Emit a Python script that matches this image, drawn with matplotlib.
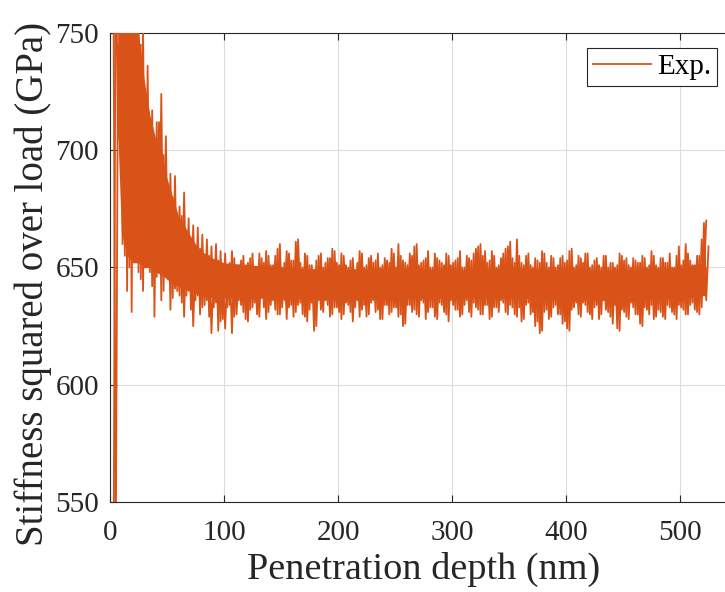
import numpy as np
import matplotlib
matplotlib.use("Agg")
import matplotlib.pyplot as plt

# Penetration depth sampling (nm) of the two interleaved acquisition traces: 3, 5, ... nm
depth_start = 3
depth_step = 2

# Stiffness squared over load (GPa), trace A
stiffness_a = [
    490, 800, 705, 785, 660, 790, 640, 770, 631, 780,
    655, 760, 645, 752, 650, 736, 648, 717, 629, 712,
    650, 724, 640, 706, 645, 690, 637, 689, 640, 676,
    635, 682, 638, 671, 632, 668, 636, 667, 630, 664,
    634, 662, 629, 659, 633, 660, 623, 657, 628, 656,
    633, 652, 622, 654, 630, 651, 634, 655, 628, 652,
    632, 656, 635, 650, 629, 654, 633, 657, 631, 651,
    636, 655, 630, 660, 633, 652, 628, 656, 634, 653,
    631, 662, 635, 650, 629, 655, 632, 651, 623, 653,
    636, 656, 631, 652, 634, 654, 630, 657, 633, 651,
    628, 655, 635, 650, 631, 654, 633, 652, 629, 656,
    634, 651, 630, 655, 636, 653, 632, 650, 628, 654,
    634, 652, 631, 656, 633, 660, 630, 653, 626, 651,
    634, 655, 632, 660, 629, 652, 635, 654, 631, 650,
    633, 656, 628, 653, 634, 651, 630, 655, 636, 652,
    632, 654, 629, 650, 634, 655, 631, 653, 635, 658,
    632, 660, 630, 657, 634, 653, 629, 655, 633, 651,
    636, 656, 631, 659, 634, 654, 630, 662, 633, 652,
    628, 655, 635, 651, 631, 654, 627, 652, 623, 656,
    632, 650, 629, 654, 634, 651, 630, 655, 627, 653,
    623, 658, 633, 651, 630, 654, 635, 656, 631, 650,
    628, 653, 634, 651, 630, 655, 632, 650, 629, 652,
    634, 651, 623, 655, 631, 654, 628, 650, 633, 653,
    630, 652, 625, 654, 632, 651, 634, 655, 629, 650,
    631, 654, 628, 652, 633, 650, 630, 655, 634, 651,
    632, 660, 630, 653, 635, 651, 631, 655, 633, 669,
    636, 659,
]

# Trace B (same depths)
stiffness_b = [
    780, 520, 745, 700, 760, 655, 775, 650, 740, 660,
    770, 648, 745, 640, 725, 652, 705, 642, 700, 646,
    712, 636, 698, 648, 684, 632, 680, 641, 670, 638,
    672, 629, 662, 640, 660, 625, 655, 638, 658, 633,
    652, 636, 655, 622, 650, 635, 653, 627, 648, 624,
    650, 634, 657, 629, 649, 636, 653, 631, 651, 627,
    654, 633, 650, 630, 656, 637, 652, 628, 655, 634,
    651, 632, 658, 630, 650, 636, 657, 633, 653, 629,
    661, 634, 652, 630, 656, 627, 651, 635, 649, 625,
    655, 632, 650, 636, 654, 629, 658, 633, 652, 631,
    656, 630, 651, 634, 653, 627, 649, 636, 657, 632,
    650, 629, 654, 635, 652, 631, 656, 628, 651, 634,
    653, 630, 658, 633, 650, 629, 655, 625, 652, 634,
    656, 631, 659, 630, 651, 636, 653, 628, 657, 633,
    650, 629, 654, 635, 652, 631, 656, 627, 651, 634,
    653, 632, 657, 630, 650, 636, 654, 629, 656, 633,
    659, 630, 655, 634, 652, 628, 657, 633, 650, 631,
    654, 635, 658, 630, 661, 633, 652, 629, 655, 627,
    651, 634, 656, 630, 650, 625, 653, 622, 657, 631,
    652, 628, 655, 633, 650, 630, 654, 626, 652, 624,
    657, 632, 650, 635, 655, 629, 652, 634, 656, 630,
    651, 633, 654, 628, 650, 636, 655, 631, 652, 626,
    650, 624, 656, 632, 653, 629, 651, 635, 654, 630,
    652, 626, 655, 633, 650, 630, 657, 628, 651, 632,
    654, 629, 652, 634, 656, 631, 650, 628, 659, 633,
    653, 630, 656, 634, 651, 632, 655, 630, 662, 645,
    670,
]
depth_a = depth_start + depth_step * np.arange(len(stiffness_a))
depth_b = depth_start + depth_step * np.arange(len(stiffness_b))

# Dense core of the noisy signal (solid region)
core_depth = [7, 10, 15, 20, 25, 30, 35, 40, 45, 50, 55, 60, 65, 70, 75, 80, 90, 100,
              150, 200, 250, 300, 350, 400, 450, 500, 520, 523]
core_low = [705, 665, 655, 652, 652, 650, 650, 648, 647, 645, 643, 642, 641, 640, 639,
            638, 637, 637, 637, 636, 637, 637, 637, 636, 636, 637, 638, 638]
core_high = [760, 760, 760, 760, 750, 730, 715, 705, 700, 688, 680, 672, 668, 664, 660,
             657, 654, 652, 650, 649, 650, 649, 650, 649, 649, 650, 652, 650]

xticks = [0, 100, 200, 300, 400, 500]
yticks = [550, 600, 650, 700, 750]
series_label = "Exp."
xlabel = "Penetration depth (nm)"
ylabel = "Stiffness squared over load (GPa)"

plt.rcParams['font.family'] = ['Liberation Serif', 'DejaVu Serif']

fig = plt.figure(figsize=(7.25, 5.92), dpi=100)
ax = fig.add_axes([110/725, 1 - 502/592, 627/725, (502 - 33)/592])

color = '#D95319'
ax.fill_between(core_depth, core_low, core_high, color=color, lw=0, zorder=3)
ax.plot(depth_a, stiffness_a, color=color, lw=1.3, label=series_label, zorder=3)
ax.plot(depth_b, stiffness_b, color=color, lw=1.3, zorder=3)

ax.set_xlim(0, 550)
ax.set_ylim(550, 750)
ax.set_xticks(xticks)
ax.set_yticks(yticks)
ax.grid(True, color='#dcdcdc', lw=0.8)
ax.set_axisbelow(True)
ax.tick_params(direction='in', length=5, width=0.8, top=True, right=True,
               labelsize=21, colors='#262626')
ax.tick_params(axis='x', pad=13)
ax.tick_params(axis='y', pad=8)
for s in ax.spines.values():
    s.set_color('#262626')
    s.set_linewidth(0.8)

ax.set_xlabel(xlabel, fontsize=27.5, color='#262626', labelpad=4)
ax.set_ylabel(ylabel, fontsize=28, color='#262626')
ax.yaxis.set_label_coords(-0.0925, 0.465)

leg = ax.legend(loc='upper right', bbox_to_anchor=(717/725, 1 - 48/592),
                bbox_transform=fig.transFigure, fontsize=21, frameon=True,
                fancybox=False, edgecolor='#262626', framealpha=1,
                handlelength=2.0, borderpad=0.2, borderaxespad=0, handletextpad=0.2)
leg.get_frame().set_linewidth(0.8)

fig.savefig("out.png", dpi=100)
